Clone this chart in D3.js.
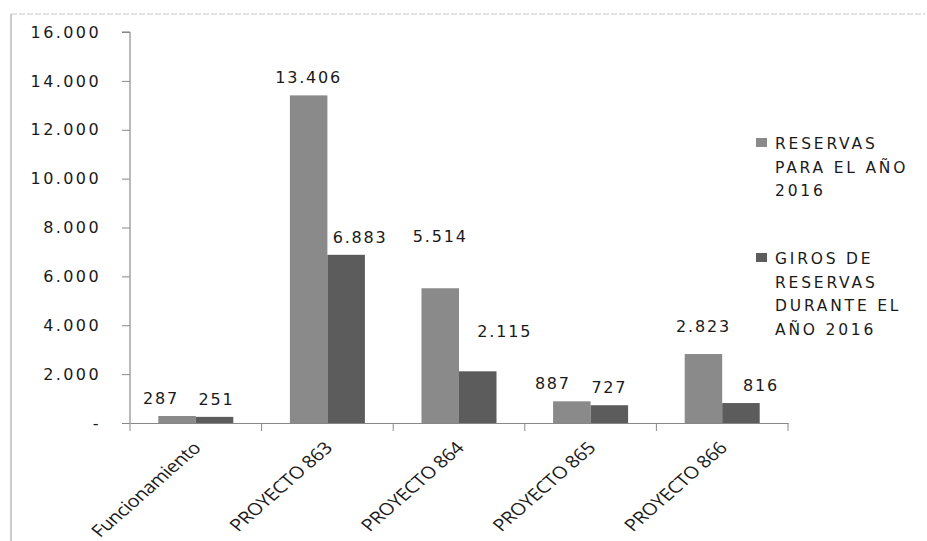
<!DOCTYPE html>
<html><head><meta charset="utf-8">
<script src="https://cdn.jsdelivr.net/npm/d3@7"></script>
<style>
html,body{margin:0;padding:0;background:#fff;}
svg{display:block;}
</style></head>
<body><svg id="chart" width="927" height="541"></svg>
<script>
const categories = ["Funcionamiento","PROYECTO 863","PROYECTO 864","PROYECTO 865","PROYECTO 866"];
const seriesNames = ["RESERVAS PARA EL AÑO 2016","GIROS DE RESERVAS DURANTE EL AÑO 2016"];
const reservas = [287, 13406, 5514, 887, 2823];
const giros = [251, 6883, 2115, 727, 816];
const yTicks = [0, 2000, 4000, 6000, 8000, 10000, 12000, 14000, 16000];
const legendLines = [["RESERVAS","PARA EL AÑO","2016"],["GIROS DE","RESERVAS","DURANTE EL","AÑO 2016"]];

// label nudges (layout only), [dx, dy] per series per category
const nudge = [
  [[-16,0],[0,0],[0,-34],[-19,0],[0,-10]],
  [[2,0],[14,0],[27,-22],[0,0],[20,0]]
];

const colors = ["#8a8a8a","#5c5c5c"];
const svg = d3.select("#chart");

// frame
svg.append("line").attr("x1",11).attr("x2",925).attr("y1",14).attr("y2",14).attr("stroke","#c8c8c8").attr("stroke-width",1).attr("stroke-dasharray","6,2");
svg.append("line").attr("x1",11).attr("x2",11).attr("y1",14).attr("y2",541).attr("stroke","#aaa").attr("stroke-width",1.2);

const x0 = d3.scaleBand().domain(categories).range([130,788]).paddingInner(0).paddingOuter(0);
const groupW = x0.bandwidth()*0.57;
const x1 = d3.scaleBand().domain([0,1]).range([0,groupW]);
const y = d3.scaleLinear().domain([0,16000]).range([423,32]);

const fmt = v => d3.format(",")(v).replace(/,/g,".");

// y axis
const yAxis = d3.axisLeft(y).tickValues(yTicks).tickSize(8).tickFormat(d => d===0 ? "-" : fmt(d));
const gy = svg.append("g").attr("transform","translate(130,0)").call(yAxis);
gy.select(".domain").attr("stroke","#777").attr("d","M-8,32H0V423");
gy.selectAll(".tick line").attr("stroke","#888");
gy.selectAll(".tick text").attr("x",-29).attr("font-family","DejaVu Sans").attr("font-size",16).attr("letter-spacing",2.4).attr("fill","#1a1a1a");

// bars
const data = categories.map((c,i)=>({c, v:[reservas[i], giros[i]], i}));
const groups = svg.append("g").selectAll("g").data(data).join("g")
  .attr("transform", d => `translate(${x0(d.c)+(x0.bandwidth()-groupW)/2},0)`);
groups.selectAll("rect").data(d => d.v.map((v,s)=>({v,s,i:d.i}))).join("rect")
  .attr("x", d => x1(d.s)).attr("width", x1.bandwidth())
  .attr("y", d => y(d.v)).attr("height", d => y(0)-y(d.v))
  .attr("fill", d => colors[d.s]);
groups.selectAll("text").data(d => d.v.map((v,s)=>({v,s,i:d.i}))).join("text")
  .attr("x", d => x1(d.s)+x1.bandwidth()/2 + nudge[d.s][d.i][0])
  .attr("y", d => y(d.v)-12 + nudge[d.s][d.i][1])
  .attr("text-anchor","middle")
  .attr("font-family","DejaVu Sans").attr("font-size",16).attr("letter-spacing",1.8).attr("fill","#1a1a1a")
  .text(d => fmt(d.v));

// x axis
const xAxis = d3.axisBottom(x0).tickSize(0).tickFormat(d=>d);
const gx = svg.append("g").attr("transform","translate(0,423)").call(xAxis);
gx.select(".domain").attr("stroke","#888");
gx.selectAll(".tick text")
  .attr("font-family","Open Sans").attr("font-size",17).attr("letter-spacing",-0.3).attr("fill","#1a1a1a")
  .attr("text-anchor","end").attr("dy",null).attr("y",0)
  .attr("transform","translate(6,26) scale(1.18,1) rotate(-46)");
// category boundary ticks
const bounds = categories.map(c=>x0(c)).concat([788]);
svg.append("g").selectAll("line").data(bounds).join("line")
  .attr("x1",d=>d).attr("x2",d=>d).attr("y1",423).attr("y2",431).attr("stroke","#888");

// legend
const lg = svg.append("g");
const legendTop = [143, 258];
legendLines.forEach((lines,s)=>{
  lg.append("rect").attr("x",756).attr("y",legendTop[s]-5).attr("width",11).attr("height",9).attr("fill",colors[s]);
  lines.forEach((t,k)=>{
    lg.append("text").attr("x",775).attr("y",legendTop[s]+k*23.5+6)
      .attr("font-family","DejaVu Sans").attr("font-size",15.5).attr("letter-spacing",2.8).attr("fill","#1a1a1a").text(t);
  });
});
</script></body></html>
